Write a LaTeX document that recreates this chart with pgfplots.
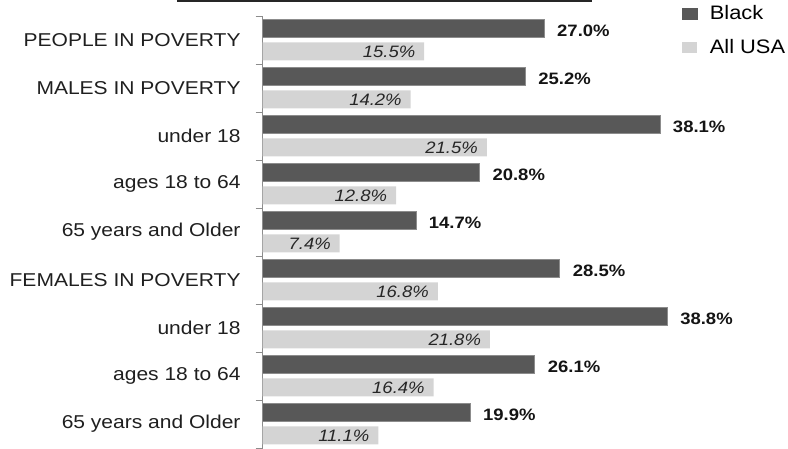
\documentclass[border=0pt]{standalone}
\usepackage{pgfplots}
\pgfplotsset{compat=1.18}
\usepackage{fontspec}
\setmainfont{Liberation Sans}
\definecolor{darkbar}{RGB}{88,88,88}
\definecolor{lightbar}{RGB}{212,212,212}
\definecolor{axisgray}{RGB}{140,140,140}
\begin{document}
\begin{tikzpicture}
\begin{axis}[
  x=10.43pt, y=48pt,
  xmin=0, xmax=50, ymin=0.5, ymax=9.5,
  axis x line=none,
  axis y line*=left,
  axis line style={axisgray, line width=0.8pt},
  clip=false,
  ytick={1,...,9},
  yticklabels={65 years and Older, ages 18 to 64, under 18, FEMALES IN POVERTY, 65 years and Older, ages 18 to 64, under 18, MALES IN POVERTY, PEOPLE IN POVERTY},
  major tick length=0pt,
  minor ytick={0.5,1.5,...,9.5},
  minor tick length=7pt,
  tick align=outside,
  minor tick style={axisgray, line width=0.8pt},
  yticklabel style={font=\fontsize{18.6}{22}\selectfont, text=black!88, anchor=east, xshift=-18pt, xscale=1.13},
  legend style={draw=none, fill=none, at={(axis cs:40.2,9.76)}, anchor=north west, inner sep=0pt, row sep=14pt,
    font=\fontsize{19.5}{22}\selectfont, nodes={xscale=1.12},
    /tikz/every odd column/.append style={column sep=10pt}},
  legend cell align=left,
]
\addplot[xbar, bar width=18pt, bar shift=11.5pt, fill=darkbar, draw=black!45, line width=0.6pt,
  point meta=explicit symbolic,
  nodes near coords,
  nodes near coords style={anchor=west, xshift=9pt, yshift=9.5pt, font=\fontsize{16.5}{18}\selectfont\bfseries, text=black!92, xscale=1.12},
  legend image code/.code={\fill[darkbar] (0pt,-5.5pt) rectangle (15pt,5.5pt);}]
  coordinates {
  (19.9,1) [19.9\%]
  (26.1,2) [26.1\%]
  (38.8,3) [38.8\%]
  (28.5,4) [28.5\%]
  (14.7,5) [14.7\%]
  (20.8,6) [20.8\%]
  (38.1,7) [38.1\%]
  (25.2,8) [25.2\%]
  (27.0,9) [27.0\%]
  };
\addlegendentry{Black}
\addplot[xbar, bar width=18pt, bar shift=-11.5pt, fill=lightbar, draw=none,
  point meta=explicit symbolic,
  nodes near coords,
  nodes near coords style={anchor=east, xshift=-5pt, yshift=-11.5pt, font=\fontsize{16.5}{18}\selectfont\itshape, text=black!85, xscale=1.12},
  legend image code/.code={\fill[lightbar] (0pt,-5.5pt) rectangle (15pt,5.5pt);}]
  coordinates {
  (11.1,1) [11.1\%]
  (16.4,2) [16.4\%]
  (21.8,3) [21.8\%]
  (16.8,4) [16.8\%]
  (7.4,5) [7.4\%]
  (12.8,6) [12.8\%]
  (21.5,7) [21.5\%]
  (14.2,8) [14.2\%]
  (15.5,9) [15.5\%]
  };
\addlegendentry{All USA}
\draw[black!85, line width=2pt] (axis cs:-8.2,9.8125) -- (axis cs:31.59,9.8125);
\coordinate (tl) at (axis cs:-25.17,9.833);
\coordinate (br) at (axis cs:50.38,0.479);
\end{axis}
\pgfresetboundingbox
\path (tl) rectangle (br);
\end{tikzpicture}
\end{document}
